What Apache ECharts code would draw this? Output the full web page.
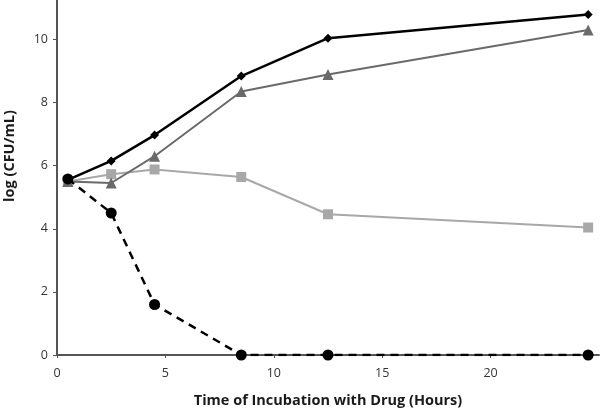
<!DOCTYPE html>
<html>
<head>
<meta charset="utf-8">
<script src="https://cdn.jsdelivr.net/npm/echarts@6/dist/echarts.min.js"></script>
<style>html,body{margin:0;padding:0;background:#fff}#c{width:600px;height:409px}</style>
</head>
<body>
<div id="c"></div>
<script>
var hours = [0.5, 2.5, 4.5, 8.5, 12.5, 24.5];
var diamondSeries = [5.55, 6.15, 6.97, 8.84, 10.04, 10.79];
var triangleSeries = [5.5, 5.45, 6.3, 8.35, 8.89, 10.3];
var squareSeries = [5.5, 5.73, 5.88, 5.64, 4.46, 4.04];
var circleSeries = [5.58, 4.5, 1.6, 0, 0, 0];
var yTicks = [0, 2, 4, 6, 8, 10];
var xTicks = [0, 5, 10, 15, 20];

function pairs(vals) { return hours.map(function (h, i) { return [h, vals[i]]; }); }

var font = 'Open Sans';
var chart = echarts.init(document.getElementById('c'));
chart.setOption({
  animation: false,
  grid: { left: 57, right: 1, top: 0, bottom: 54, outerBoundsMode: 'none', containLabel: false },
  xAxis: {
    type: 'value', min: 0, max: 25,
    name: 'Time of Incubation with Drug (Hours)',
    nameLocation: 'middle', nameGap: 38,
    nameTextStyle: { fontFamily: font, fontSize: 14.5, fontWeight: 'bold', color: '#1a1a1a' },
    axisLine: { lineStyle: { color: '#555', width: 2 } },
    axisTick: { show: true, inside: false, length: 3, lineStyle: { color: '#555', width: 1 }, customValues: xTicks },
    axisLabel: { customValues: xTicks, fontFamily: font, fontSize: 12.5, color: '#333', margin: 12 },
    splitLine: { show: false }
  },
  yAxis: {
    type: 'value', min: 0, max: 11.25,
    axisLine: { show: true, lineStyle: { color: '#555', width: 2 } },
    axisTick: { show: true, inside: false, length: 4, lineStyle: { color: '#555', width: 1 }, customValues: yTicks },
    axisLabel: { customValues: yTicks, fontFamily: font, fontSize: 12.5, color: '#333', margin: 9 },
    splitLine: { show: false }
  },
  graphic: [{
    type: 'text', x: 10, y: 156, rotation: Math.PI / 2, originX: 0, originY: 0,
    style: { text: 'log (CFU/mL)', fontFamily: font, fontSize: 14.5, fontWeight: 'bold', fill: '#1a1a1a', align: 'center', verticalAlign: 'middle' }
  }],
  series: [
    { type: 'line', data: pairs(squareSeries), symbol: 'rect', symbolSize: 10,
      lineStyle: { color: '#a8a8a8', width: 2 }, itemStyle: { color: '#a8a8a8' }, z: 2 },
    { type: 'line', data: pairs(triangleSeries), symbol: 'triangle', symbolSize: 11,
      lineStyle: { color: '#6a6a6a', width: 2 }, itemStyle: { color: '#6a6a6a' }, z: 3 },
    { type: 'line', data: pairs(diamondSeries), symbol: 'diamond', symbolSize: 9,
      lineStyle: { color: '#000', width: 2.5 }, itemStyle: { color: '#000' }, z: 4 },
    { type: 'line', data: pairs(circleSeries), symbol: 'circle', symbolSize: 11,
      lineStyle: { color: '#000', width: 2.5, type: [8, 6] }, itemStyle: { color: '#000' }, z: 5 }
  ]
});
</script>
</body>
</html>
